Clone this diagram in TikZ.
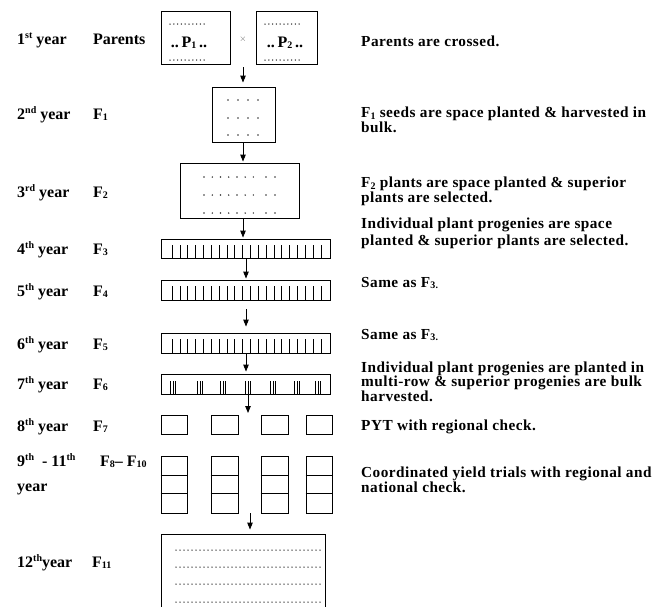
\documentclass[tikz,border=0pt]{standalone}
\usepackage{fontspec}
\setmainfont{Liberation Serif}
\usetikzlibrary{arrows.meta,calc}
\newcommand{\sbs}[1]{\raisebox{-0.12em}{\fontsize{10}{10}\selectfont #1}}
\newcommand{\sps}[1]{\raisebox{0.36em}{\fontsize{10}{10}\selectfont #1}}
\newcommand{\tightlines}{\lineskiplimit=-30pt\relax\lineskip=0pt\relax}
\newcommand{\descfont}{\fontsize{15.3}{14.5}\selectfont\tightlines\bfseries\addfontfeature{LetterSpace=3}}
\begin{document}
\begin{tikzpicture}[x=1pt,y=-1pt,
  box/.style={draw, line width=0.9pt, inner sep=0pt},
  arr/.style={line width=0.9pt, -{Triangle[length=7pt,width=5.5pt]}},
  lab/.style={anchor=base west, inner sep=0pt, font=\fontsize{16}{18}\selectfont\bfseries},
  desc/.style={anchor=base west, inner sep=0pt, align=left, font=\descfont},
  rule/.style={line width=0.6pt}
]
\useasboundingbox (0,0) rectangle (670,606);
\clip (0,0) rectangle (670,606);

% column coordinates for arrows
\coordinate (ax1) at (243,0);
\coordinate (ax2) at (246,0);
\coordinate (ax3) at (248,413);
\coordinate (ax4) at (250,0);

% ---------- left labels ----------
\node[lab] (y1) at (17,44) {1\sps{st} year};
\node[lab] (g1) at (93,44) {Parents};
\node[lab] (y2) at (17,119) {2\sps{nd} year};
\node[lab] (g2) at (93,119) {F\sbs{1}};
\node[lab] (y3) at (17,197) {3\sps{rd} year};
\node[lab] (g3) at (93,197) {F\sbs{2}};
\node[lab] (y4) at (17,254) {4\sps{th} year};
\node[lab] (g4) at (93,254) {F\sbs{3}};
\node[lab] (y5) at (17,296) {5\sps{th} year};
\node[lab] (g5) at (93,296) {F\sbs{4}};
\node[lab] (y6) at (17,349) {6\sps{th} year};
\node[lab] (g6) at (93,349) {F\sbs{5}};
\node[lab] (y7) at (17,389) {7\sps{th} year};
\node[lab] (g7) at (93,389) {F\sbs{6}};
\node[lab] (y8) at (17,431) {8\sps{th} year};
\node[lab] (g8) at (93,431) {F\sbs{7}};
\node[lab] (y9) at (17,466) {9\sps{th}\ \ - 11\sps{th}};
\node[lab] (y9b) at (17,491) {year};
\node[lab] (g9) at (100,466) {F\sbs{8}– F\sbs{10}};
\node[lab] (y12) at (17,567) {12\sps{th}year};
\node[lab] (g12) at (92,567) {F\sbs{11}};

% ---------- right descriptions (anchored at the last line's baseline) ----------
\node[desc] (d1) at (361,46) {Parents are crossed.};
\node[desc] (d2) at (361,132) {F\sbs{1} seeds are space planted \& harvested in\\bulk.};
\node[desc] (d3) at (361,202) {F\sbs{2} plants are space planted \& superior\\plants are selected.};
\node[desc] (d4) at (361,245) {Individual plant progenies are space\\[2.5pt]planted \& superior plants are selected.};
\node[desc] (d5) at (361,287) {Same as F\sbs{3.}};
\node[desc] (d6) at (361,339) {Same as F\sbs{3.}};
\node[desc] (d7) at (361,401) {Individual plant progenies are planted in\\multi-row \& superior progenies are bulk\\harvested.};
\node[desc] (d8) at (361,430) {PYT with regional check.};
\node[desc] (d9) at (361,492) {Coordinated yield trials with regional and\\national check.};

% ---------- parents ----------
\node[box, minimum width=69, minimum height=53] (p1) at (195.5,37.5) {};
\node[box, minimum width=61, minimum height=53] (p2) at (286.5,37.5) {};
\node[inner sep=0pt, text=black!60, font=\small] (cross) at (243,39) {$\times$};
\foreach \xs in {170,265}
  \foreach \yy in {24,60}
    \foreach \i in {0,...,9}
      \fill[black!85] ({\xs+3.8*\i},\yy) circle (0.75);
\node[inner sep=0pt, font=\fontsize{16}{18}\selectfont\bfseries, anchor=base] (p1m) at (189,47) {..\,P\sbs{1}\,..};
\node[inner sep=0pt, font=\fontsize{16}{18}\selectfont\bfseries, anchor=base] (p2m) at (285,47) {..\,P\sbs{2}\,..};

% ---------- F1, F2 ----------
\node[box, minimum width=63, minimum height=55] (f1) at (243.5,114.5) {};
\foreach \yy in {100,118,135}
  \foreach \xx in {228,238,248,258}
    \fill[black!80] (\xx,\yy) circle (0.8);
\node[box, minimum width=119, minimum height=55] (f2) at (239.5,190.5) {};
\foreach \yy in {177,195,213}
  \foreach \xx in {204,212.3,220.5,228.7,237,245.2,253.4,266,275}
    \fill[black!80] (\xx,\yy) circle (0.8);

% ---------- F3 - F5 ----------
\node[box, minimum width=169, minimum height=19] (f3) at (245.5,248.5) {};
\node[box, minimum width=169, minimum height=20] (f4) at (245.5,290) {};
\node[box, minimum width=169, minimum height=20] (f5) at (245.5,343) {};
\foreach \tp/\bt in {239/258,280/300,333/353}
  \foreach \i in {0,...,19}
    \draw[rule] ({172+7.84*\i},\tp+6) -- ({172+7.84*\i},\bt);

% ---------- F6 ----------
\node[box, minimum width=169, minimum height=20] (f6) at (245.5,384) {};
\foreach \c in {173,200,223,248,273,297,318}
  \foreach \d in {-2.6,0,2.6}
    \draw[rule] (\c+\d,381) -- (\c+\d,394);

% ---------- F7 ----------
\node[box, minimum width=26, minimum height=19] (f7a) at (174,424.5) {};
\node[box, minimum width=27, minimum height=19] (f7b) at (224.5,424.5) {};
\node[box, minimum width=27, minimum height=19] (f7c) at (274.5,424.5) {};
\node[box, minimum width=26, minimum height=19] (f7d) at (319,424.5) {};

% ---------- F8 - F10 ----------
\node[box, minimum width=26, minimum height=57] (f8a) at (174,484.5) {};
\node[box, minimum width=27, minimum height=57] (f8b) at (224.5,484.5) {};
\node[box, minimum width=27, minimum height=57] (f8c) at (274.5,484.5) {};
\node[box, minimum width=26, minimum height=57] (f8d) at (319,484.5) {};
\foreach \n in {f8a,f8b,f8c,f8d}{
  \draw[line width=0.9pt] ($(\n.north west)+(0,20)$) -- ($(\n.north east)+(0,20)$);
  \draw[line width=0.9pt] ($(\n.north west)+(0,38)$) -- ($(\n.north east)+(0,38)$);
}

% ---------- F11 ----------
\node[box, minimum width=164, minimum height=90] (f11) at (243,579) {};
\foreach \yy in {550,567,584,602}
  \foreach \i in {0,...,36}
    \fill[black!80] ({176+4*\i},\yy) circle (0.75);

% ---------- arrows ----------
\draw[arr, shorten <=3pt, shorten >=4pt] (p1.south -| ax1) -- (f1.north -| ax1);
\draw[arr, shorten >=1pt] (f1.south -| ax1) -- (f2.north -| ax1);
\draw[arr, shorten >=1pt] (f2.south -| ax1) -- (f3.north -| ax1);
\draw[arr, shorten >=1pt] (f3.south -| ax2) -- (f4.north -| ax2);
\draw[arr, shorten <=9pt, shorten >=6pt] (f4.south -| ax2) -- (f5.north -| ax2);
\draw[arr, shorten >=2pt] (f5.south -| ax2) -- (f6.north -| ax2);
\draw[arr] (f6.south -| ax3) -- (ax3);
\draw[arr, shorten >=4pt] (f8b.south -| ax4) -- (f11.north -| ax4);
\end{tikzpicture}
\end{document}
